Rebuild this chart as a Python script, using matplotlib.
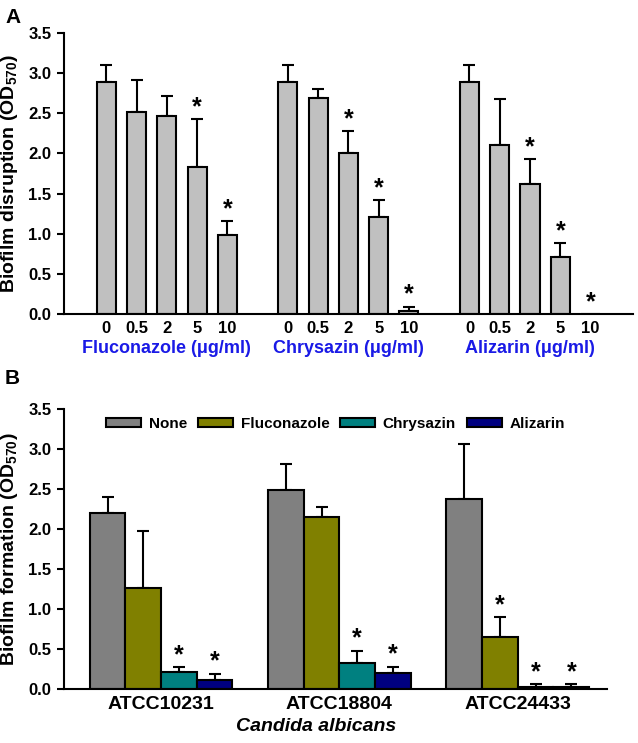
import numpy as np
import matplotlib
matplotlib.use('Agg')
import matplotlib.pyplot as plt

plt.rcParams['font.family'] = ['Liberation Sans', 'DejaVu Sans']
plt.rcParams['font.weight'] = 'bold'
plt.rcParams['mathtext.fontset'] = 'custom'
plt.rcParams['mathtext.bf'] = 'Liberation Sans:bold'
plt.rcParams['mathtext.rm'] = 'Liberation Sans:bold'

# panel A
conc = ['0', '0.5', '2', '5', '10']
drugs_a = ['Fluconazole (\u03bcg/ml)', 'Chrysazin (\u03bcg/ml)', 'Alizarin (\u03bcg/ml)']
fluc_a = [2.89, 2.52, 2.47, 1.83, 0.98]
fluc_a_err = [0.21, 0.39, 0.24, 0.60, 0.18]
chry_a = [2.89, 2.69, 2.00, 1.21, 0.04]
chry_a_err = [0.21, 0.11, 0.28, 0.21, 0.05]
aliz_a = [2.89, 2.11, 1.62, 0.71, 0.0]
aliz_a_err = [0.21, 0.57, 0.31, 0.17, 0.0]
star_a = [[0, 0, 0, 1, 1], [0, 0, 1, 1, 1], [0, 0, 1, 1, 1]]

# panel B
strains = ['ATCC10231', 'ATCC18804', 'ATCC24433']
treat = ['None', 'Fluconazole', 'Chrysazin', 'Alizarin']
colors_b = ['#808080', '#808000', '#008080', '#000080']
none_b = [2.20, 2.49, 2.37]
none_b_err = [0.20, 0.32, 0.69]
fluc_b = [1.26, 2.15, 0.65]
fluc_b_err = [0.72, 0.13, 0.25]
chry_b = [0.21, 0.32, 0.03]
chry_b_err = [0.06, 0.16, 0.03]
aliz_b = [0.11, 0.20, 0.02]
aliz_b_err = [0.08, 0.08, 0.04]
star_b = [[0, 0, 0], [0, 0, 1], [1, 1, 1], [1, 1, 1]]

fig = plt.figure(figsize=(6.38, 7.43), dpi=100)
axA = fig.add_axes([0.1003, 0.5774, 0.8917, 0.3782])
axB = fig.add_axes([0.1003, 0.0727, 0.8511, 0.3768])

for ax in (axA, axB):
    for s in ['top', 'right']:
        ax.spines[s].set_visible(False)
    for s in ['left', 'bottom']:
        ax.spines[s].set_linewidth(1.5)
    ax.set_ylim(0, 3.5)
    ax.set_yticks(np.arange(0, 3.51, 0.5))
    ax.set_yticklabels([f'{v:.1f}' for v in np.arange(0, 3.51, 0.5)], fontsize=12, fontweight='bold')
    ax.tick_params(axis='y', direction='out', length=5, width=1.5, pad=4)
    ax.tick_params(axis='x', length=0, pad=5)

# A
vals_a = [fluc_a, chry_a, aliz_a]
errs_a = [fluc_a_err, chry_a_err, aliz_a_err]
xt, xl = [], []
for g in range(3):
    x = np.arange(5) + 6 * g
    v = np.array(vals_a[g])
    e = np.array(errs_a[g])
    axA.bar(x, v, width=0.63, color='#c0c0c0', edgecolor='black', linewidth=1.5, zorder=2)
    m = e > 0
    axA.errorbar(x[m], v[m], yerr=[np.zeros(m.sum()), e[m]], fmt='none', ecolor='black',
                 elinewidth=1.5, capsize=4, capthick=1.5, zorder=1)
    for i in range(5):
        if star_a[g][i]:
            axA.text(x[i], v[i] + e[i], '*', ha='center', va='bottom', fontsize=18, fontweight='bold')
    xt += list(x)
    xl += conc
    axA.text(x[2], -0.43, drugs_a[g], ha='center', va='center', color='#1a1ae6', fontsize=13,
             fontweight='bold', clip_on=False)
axA.set_xlim(-1.4, 17.4)
axA.set_xticks(xt)
axA.set_xticklabels(xl, fontsize=12, fontweight='bold')
axA.set_ylabel('Biofilm disruption (OD$_{\\mathbf{570}}$)', fontsize=14, fontweight='bold', labelpad=6)
fig.text(0.008, 0.977, 'A', fontsize=15, fontweight='bold', va='center')

# B
vals_b = [none_b, fluc_b, chry_b, aliz_b]
errs_b = [none_b_err, fluc_b_err, chry_b_err, aliz_b_err]
gx = np.arange(3) * 5
for k in range(4):
    x = gx + k - 1.5
    v = np.array(vals_b[k])
    e = np.array(errs_b[k])
    axB.bar(x, v, width=1.0, color=colors_b[k], edgecolor='black', linewidth=1.5, label=treat[k], zorder=2)
    axB.errorbar(x, v, yerr=[np.zeros(3), e], fmt='none', ecolor='black',
                 elinewidth=1.5, capsize=4, capthick=1.5, zorder=1)
    for i in range(3):
        if star_b[k][i]:
            axB.text(x[i], v[i] + e[i], '*', ha='center', va='bottom', fontsize=18, fontweight='bold')
axB.set_xlim(-2.72, 12.5)
axB.set_xticks(gx)
axB.set_xticklabels(strains, fontsize=14, fontweight='bold')
axB.set_xlabel('Candida albicans', fontsize=14, fontweight='bold', style='italic', labelpad=4)
axB.xaxis.set_label_coords(0.465, -0.105)
axB.set_ylabel('Biofilm formation (OD$_{\\mathbf{570}}$)', fontsize=14, fontweight='bold', labelpad=6)
axB.legend(loc='upper center', bbox_to_anchor=(0.5, 1.02), ncol=4, frameon=False,
           handlelength=2.3, handleheight=0.5, columnspacing=0.7, handletextpad=0.5,
           prop={'size': 11, 'weight': 'bold'})
fig.text(0.008, 0.49, 'B', fontsize=15, fontweight='bold', va='center')

fig.savefig('out.png', dpi=100)
